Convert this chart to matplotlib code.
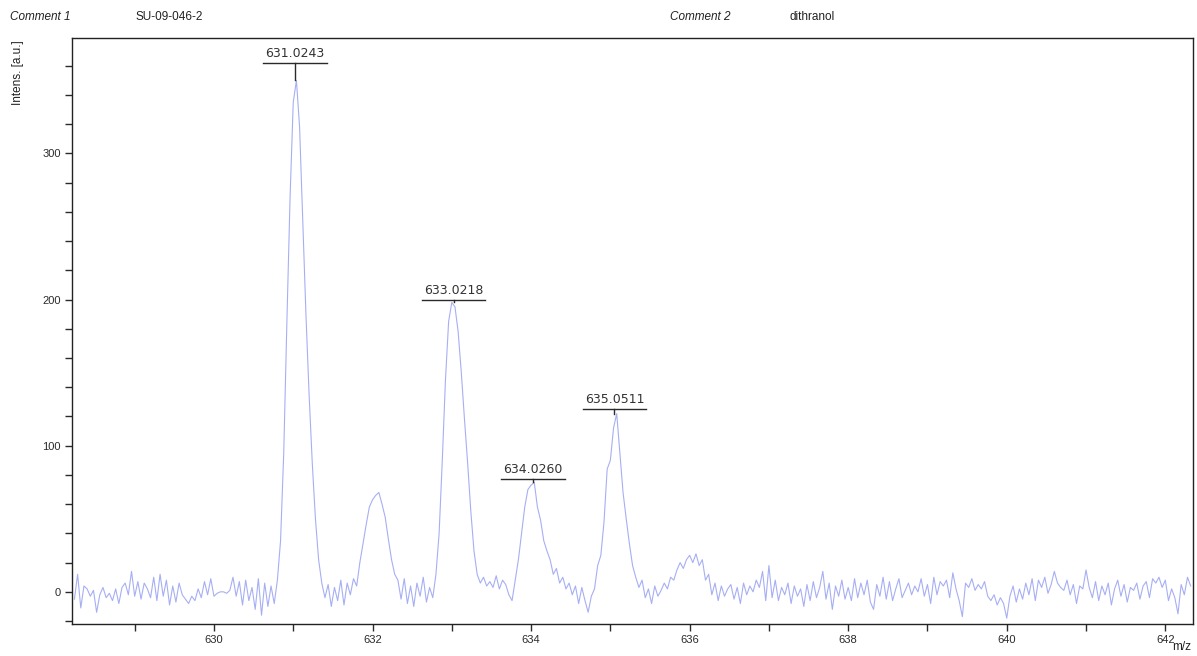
import numpy as np
import matplotlib
matplotlib.use("Agg")
import matplotlib.pyplot as plt
from matplotlib.ticker import MultipleLocator, FuncFormatter

# spectrum sampled every 0.04 m/z, one row per unit of m/z
mz_start = 628.24
mz_step = 0.04
intens_628 = [-5, 12, -11, 4, 2, -3, 1, -14, -2, 3, -4, -1, -6, 2, -8, 3, 6, -2, 14]
intens_629 = [-3, 7, -5, 6, 2, -4, 10, -6, 12, -3, 8, -9, 4, -7, 6, -2, -5, -8, -3, -6, 2, -4, 7, -2, 9]
intens_630 = [-3, -1, 0, 0, -1, 1, 10, -3, 7, -9, 8, -6, 3, -12, 9, -16, 6, -10, 4, -8, 8, 35, 95, 185, 270]
intens_631 = [335, 350, 318, 255, 190, 135, 88, 50, 22, 6, -4, 5, -10, 3, -6, 8, -9, 6, -2, 9, 4, 20, 33, 46, 58]
intens_632 = [63, 66, 68, 60, 51, 36, 22, 12, 8, -5, 9, -8, 4, -10, 6, -3, 10, -7, 3, -4, 12, 40, 90, 145, 185]
intens_633 = [198, 195, 178, 150, 118, 88, 55, 28, 12, 6, 10, 4, 7, 3, 11, 2, 8, 5, -2, -6, 8, 22, 40, 58, 70]
intens_634 = [73, 75, 58, 49, 35, 28, 22, 12, 16, 6, 10, 2, 6, -2, 4, -8, 3, -6, -14, -3, 2, 18, 25, 48, 84]
intens_635 = [90, 112, 122, 95, 68, 50, 33, 18, 10, 3, 8, -4, 2, -8, 4, -3, 1, 6, 2, 10, 8, 15, 20, 16, 22]
intens_636 = [25, 20, 26, 18, 22, 8, 12, -2, 6, -6, 4, -3, 2, 5, -5, 3, -8, 6, -2, 4, 0, 8, 3, 14, -6]
intens_637 = [18, -4, 8, -6, 3, -2, 6, -8, 4, -3, 2, -10, 5, -6, 7, -4, 3, 14, -5, 6, -12, 4, -3, 8, -5]
intens_638 = [3, -6, 9, -4, 6, -2, 8, -7, -12, 5, -3, 10, -5, 7, -6, 2, 9, -4, 1, 6, -2, 4, 0, 9, -3]
intens_639 = [5, -8, 10, -2, 7, 4, 8, -4, 13, 2, -6, -17, 6, 3, 9, 1, 5, 2, 7, -3, -6, -2, -9, -4, -8]
intens_640 = [-18, -3, 4, -7, 2, -5, 6, -2, 9, -6, 8, 3, 10, -1, 5, 14, 6, 3, 1, 8, -2, 5, -8, 4, 2]
intens_641 = [15, 3, -4, 7, -6, 4, -2, 6, -9, 2, 8, -3, 5, -7, 3, 1, 6, -5, 4, 7, -4, 9, 6, 10, 3]
intens_642 = [8, -6, 2, -4, -15, 5, -2, 10, 4]

peak_mz = [631.0243, 633.0218, 634.0260, 635.0511]
peak_labels = ["631.0243", "633.0218", "634.0260", "635.0511"]
label_gap = [12, 2, 2, 3]

intens = np.array(intens_628 + intens_629 + intens_630 + intens_631 + intens_632
                  + intens_633 + intens_634 + intens_635 + intens_636 + intens_637
                  + intens_638 + intens_639 + intens_640 + intens_641 + intens_642, dtype=float)
mz = mz_start + mz_step * np.arange(len(intens))

plt.rcParams['font.family'] = ['Liberation Sans', 'DejaVu Sans']

fig = plt.figure(figsize=(11.97, 6.56), dpi=100)
ax = fig.add_axes([0.0602, 0.0488, 0.9365, 0.8933])

ax.plot(mz, intens, color='#a7aff3', lw=0.8)

# peak labels: underlined m/z with a tick down to the peak top
for pm, lab, gap in zip(peak_mz, peak_labels, label_gap):
    near = np.abs(mz - pm) < 0.1
    top = intens[near].max()
    y_u = top + gap
    ax.plot([pm, pm], [top, y_u], color='#2a2a2a', lw=1.0)
    ax.plot([pm - 0.4, pm + 0.4], [y_u, y_u], color='#2a2a2a', lw=1.0)
    ax.text(pm, y_u + 2, lab, ha='center', va='bottom', fontsize=9,
            family='DejaVu Sans', color='#333333')

ax.set_xlim(628.21, 642.35)
ax.set_ylim(-22, 379)

ax.xaxis.set_major_locator(MultipleLocator(1))
ax.xaxis.set_major_formatter(FuncFormatter(lambda v, p: "%d" % round(v) if round(v) % 2 == 0 else ""))
ax.yaxis.set_major_locator(MultipleLocator(20))
ax.yaxis.set_major_formatter(FuncFormatter(lambda v, p: "%d" % round(v) if round(v) % 100 == 0 else ""))
ax.tick_params(axis='both', direction='out', length=5, width=1, labelsize=8,
               colors='#2a2a2a', pad=3)

for sp in ax.spines.values():
    sp.set_color('#222222')
    sp.set_linewidth(1.0)

fig.text(10 / 1197, 1 - 17 / 656, "Comment 1", style='italic', fontsize=8.5,
         va='center', ha='left', color='#222222')
fig.text(135 / 1197, 1 - 17 / 656, "SU-09-046-2", fontsize=8.5,
         va='center', ha='left', color='#222222')
fig.text(670 / 1197, 1 - 17 / 656, "Comment 2", style='italic', fontsize=8.5,
         va='center', ha='left', color='#222222')
fig.text(790 / 1197, 1 - 17 / 656, "dithranol", fontsize=8.5,
         va='center', ha='left', color='#222222')
fig.text(18 / 1197, 1 - 40 / 656, "Intens. [a.u.]", rotation=90, fontsize=8.5,
         va='top', ha='center', color='#222222')
fig.text(1191 / 1197, 1 - 647 / 656, "m/z", fontsize=8.5,
         va='center', ha='right', color='#222222')

fig.savefig("out.png", dpi=100, facecolor='white')
